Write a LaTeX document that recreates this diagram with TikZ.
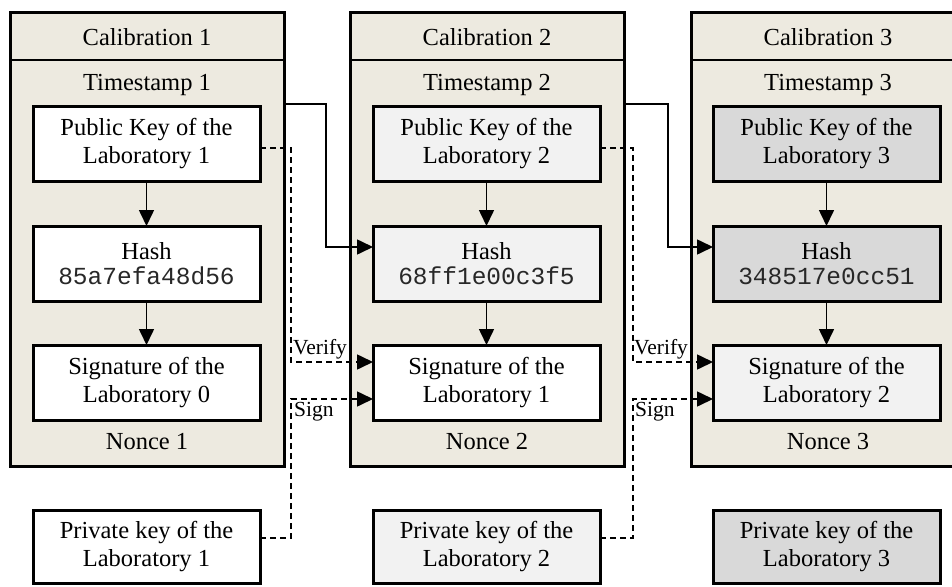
\documentclass[tikz,border=0pt]{standalone}
\usepackage{fontspec}
\setmainfont{Liberation Serif}
\newfontfamily\codefont{Liberation Mono}
\usetikzlibrary{arrows.meta}
\definecolor{beige}{RGB}{237,234,224}
\definecolor{lgray}{RGB}{242,242,242}
\definecolor{dgray}{RGB}{217,217,217}
\definecolor{codegray}{RGB}{40,40,40}
\begin{document}
\begin{tikzpicture}[x=1pt,y=-1pt,
 blk/.style={draw, line width=3pt, fill=beige, minimum width=274pt, minimum height=453pt, inner sep=0pt, outer sep=0pt, anchor=north west},
 inbox/.style={draw, line width=3pt, minimum width=227pt, minimum height=75pt, inner sep=0pt, outer sep=0pt, anchor=north west, align=center, font=\fontsize{24.5}{28}\selectfont},
 lbl/.style={font=\fontsize{24.5}{28}\selectfont, inner sep=0pt},
 sepline/.style={line width=2pt},
 conn/.style={line width=1.6pt, -{Triangle[length=16pt,width=15pt]}},
 dconn/.style={conn, dash pattern=on 6pt off 4pt},
 tag/.style={font=\fontsize{21.5}{24}\selectfont, inner sep=0pt, anchor=base west}
]
\useasboundingbox (0,0) rectangle (952,586);
\clip (0,0) rectangle (952,586);

% ---------- blocks ----------
\node[blk] (blk1) at (10,13) {};
\node[blk] (blk2) at (350,13) {};
\node[blk] (blk3) at (691,13) {};
\draw[sepline] (blk1.west |- 0,60) -- (blk1.east |- 0,60);
\draw[sepline] (blk2.west |- 0,60) -- (blk2.east |- 0,60);
\draw[sepline] (blk3.west |- 0,60) -- (blk3.east |- 0,60);

\node[lbl] (cal1) at (147,37) {Calibration 1};
\node[lbl] (cal2) at (487,37) {Calibration 2};
\node[lbl] (cal3) at (828,37) {Calibration 3};
\node[lbl] (ts1) at (147,85) {Timestamp 1};
\node[lbl] (ts2) at (487,85) {Timestamp 2};
\node[lbl] (ts3) at (828,85) {Timestamp 3};
\node[lbl] (nonce1) at (147,442) {Nonce 1};
\node[lbl] (nonce2) at (487,442) {Nonce 2};
\node[lbl] (nonce3) at (828,442) {Nonce 3};

% ---------- inner boxes ----------
\node[inbox, fill=white] (pub1) at (33,106) {Public Key of the\\Laboratory 1};
\node[inbox, fill=lgray] (pub2) at (373,106) {Public Key of the\\Laboratory 2};
\node[inbox, fill=dgray] (pub3) at (713,106) {Public Key of the\\Laboratory 3};

\node[inbox, fill=white] (hash1) at (33,226) {Hash\\[-3pt]{\codefont\color{codegray} 85a7efa48d56}};
\node[inbox, fill=lgray] (hash2) at (373,226) {Hash\\[-3pt]{\codefont\color{codegray} 68ff1e00c3f5}};
\node[inbox, fill=dgray] (hash3) at (713,226) {Hash\\[-3pt]{\codefont\color{codegray} 348517e0cc51}};

\node[inbox, fill=white] (sig1) at (33,345) {Signature of the\\Laboratory 0};
\node[inbox, fill=white] (sig2) at (373,345) {Signature of the\\Laboratory 1};
\node[inbox, fill=lgray] (sig3) at (713,345) {Signature of the\\Laboratory 2};

\node[inbox, fill=white, minimum height=73pt] (priv1) at (33,510) {Private key of the\\Laboratory 1};
\node[inbox, fill=lgray, minimum height=73pt] (priv2) at (373,510) {Private key of the\\Laboratory 2};
\node[inbox, fill=dgray, minimum height=73pt] (priv3) at (713,510) {Private key of the\\Laboratory 3};

% ---------- vertical arrows ----------
\draw[conn] (pub1) -- (hash1);
\draw[conn] (hash1) -- (sig1);
\draw[conn] (pub2) -- (hash2);
\draw[conn] (hash2) -- (sig2);
\draw[conn] (pub3) -- (hash3);
\draw[conn] (hash3) -- (sig3);

% ---------- chain links ----------
\draw[conn] (blk1.east |- 0,104) -- (326,104) -- (326,247) -- (hash2.west |- 0,247);
\draw[conn] (blk2.east |- 0,104) -- (668,104) -- (668,247) -- (hash3.west |- 0,247);

% ---------- verify ----------
\draw[dconn] (pub1.east |- 0,148) -- (291,148) -- (291,362) -- (sig2.west |- 0,362);
\draw[dconn] (pub2.east |- 0,148) -- (633,148) -- (633,362) -- (sig3.west |- 0,362);
\node[tag] (ver1) at (293,354) {Verify};
\node[tag] (ver2) at (634,354) {Verify};

% ---------- sign ----------
\draw[dconn] (priv1.east |- 0,538) -- (291,538) -- (291,399) -- (sig2.west |- 0,399);
\draw[dconn] (priv2.east |- 0,538) -- (633,538) -- (633,399) -- (sig3.west |- 0,399);
\node[tag] (sgn1) at (294,416) {Sign};
\node[tag] (sgn2) at (635,416) {Sign};
\end{tikzpicture}
\end{document}
